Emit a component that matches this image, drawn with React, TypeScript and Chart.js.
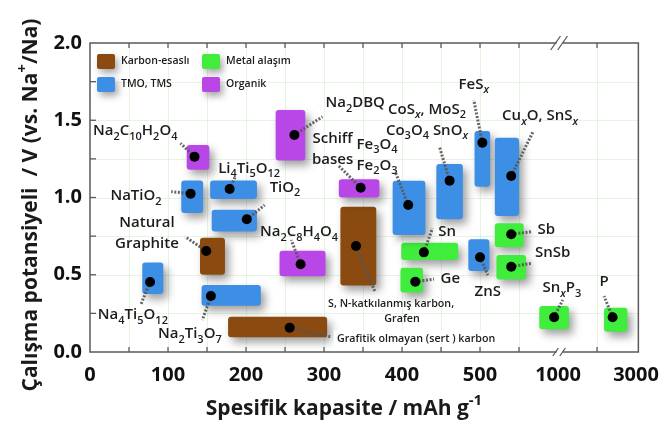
import React, { useEffect, useRef } from 'react';
import { Chart, registerables } from 'chart.js';
Chart.register(...registerables);

// ---- materials (capacity in axis units: 0-600 mAh/g linear, beyond the break 600 = 1000, 650 = 2000, 700 = 3000) ----
const materials = [
  'Na2C10H2O4', 'NaTiO2', 'Li4Ti5O12', 'TiO2', 'Natural Graphite', 'Na4Ti5O12', 'Na2Ti3O7',
  'Hard carbon', 'Na2C8H4O4', 'S,N-doped carbon', 'Sn', 'Ge', 'Na2DBQ', 'Schiff bases',
  'Fe3O4/Fe2O3', 'CoSx/MoS2/Co3O4/SnOx', 'FeSx', 'CuxO/SnSx', 'ZnS', 'Sb', 'SnSb', 'SnxP3', 'P',
];
const groups = [
  'organik', 'tmo', 'tmo', 'tmo', 'karbon', 'tmo', 'tmo',
  'karbon', 'organik', 'karbon', 'metal', 'metal', 'organik', 'organik',
  'tmo', 'tmo', 'tmo', 'tmo', 'tmo', 'metal', 'metal', 'metal', 'metal',
];
const capFrom = [124, 117, 154, 156, 141, 67, 143, 177, 243, 321, 399, 398, 238, 319, 388, 444, 493, 519, 485, 519, 521, 576, 659];
const capTo = [153, 145, 214, 214, 173, 94, 219, 304, 302, 367, 472, 427, 276, 371, 430, 478, 513, 550, 512, 556, 559, 614, 689];
const vFrom = [1.18, 0.90, 0.99, 0.78, 0.50, 0.375, 0.30, 0.095, 0.49, 0.43, 0.595, 0.385, 1.24, 1.00, 0.757, 0.86, 1.07, 0.88, 0.524, 0.678, 0.47, 0.147, 0.131];
const vTo = [1.34, 1.11, 1.11, 0.92, 0.74, 0.58, 0.434, 0.228, 0.656, 0.94, 0.707, 0.546, 1.566, 1.118, 1.109, 1.217, 1.43, 1.387, 0.729, 0.833, 0.628, 0.298, 0.287];
const dotCap = [134, 129, 179, 201, 149, 77, 155, 256, 270, 341, 428, 417, 262, 347, 408, 461, 503, 540, 500, 540, 540, 595, 670];
const dotV = [1.264, 1.025, 1.055, 0.859, 0.654, 0.453, 0.362, 0.157, 0.568, 0.686, 0.645, 0.455, 1.405, 1.063, 0.951, 1.109, 1.355, 1.139, 0.613, 0.762, 0.552, 0.225, 0.225];
const leaderCap = [116, 104, 186, 224, 122, 65, 144, 308, 258, 365, 439, 441, 298, 319, 392, 448, 492, 568, 510, 566, 566, 606, 659];
const leaderV = [1.351, 1.038, 1.133, 0.951, 0.746, 0.304, 0.207, 0.099, 0.725, 0.395, 0.801, 0.472, 1.523, 1.204, 1.157, 1.329, 1.631, 1.426, 0.498, 0.779, 0.574, 0.337, 0.362];

// ---- text annotations (markup: _ subscript, ^ superscript) ----
const labelLines: string[][] = [
  ['Na_2C_{10}H_2O_4'], ['NaTiO_2'], ['Li_4Ti_5O_{12}'], ['TiO_2'], ['Natural', 'Graphite'],
  ['Na_4Ti_5O_{12}'], ['Na_2Ti_3O_7'], ['Grafitik olmayan (sert ) karbon'], ['Na_2C_8H_4O_4'],
  ['S, N-katkılanmış karbon,'], ['Grafen'], ['Sn'], ['Ge'], ['Na_2DBQ'], ['Schiff', 'bases'],
  ['Fe_3O_4', 'Fe_2O_3'], ['CoS_x, MoS_2', 'Co_3O_4 SnO_x'], ['FeS_x'], ['Cu_xO, SnS_x'],
  ['ZnS'], ['Sb'], ['SnSb'], ['Sn_xP_3'], ['P'],
];
const labelCap = [58, 59, 204, 250, 73, 55, 128, 418, 268, 386, 400, 458, 462, 340, 311, 368, 432, 492, 577, 510, 585, 593, 605, 659];
const labelV = [1.437, 1.016, 1.194, 1.071, 0.843, 0.246, 0.123, 0.089, 0.783, 0.315, 0.218, 0.785, 0.481, 1.620, 1.390, 1.351, 1.577, 1.739, 1.534, 0.395, 0.801, 0.649, 0.423, 0.461];
const smallLabels = ['Grafitik olmayan (sert ) karbon', 'S, N-katkılanmış karbon,', 'Grafen'];

// ---- axes ----
const xTickPos = [0, 100, 200, 300, 400, 500, 600, 700];
const xTickText = ['0', '100', '200', '300', '400', '500', '1000', '3000'];
const xMinorTicks = [50, 100, 150, 200, 250, 300, 350, 400, 450, 500, 550, 650];
const yTickPos = [0, 0.5, 1.0, 1.5, 2.0];
const yMinorTicks = [0.25, 0.5, 0.75, 1.0, 1.25, 1.5, 1.75];
const xBreakAt = 602;

const legendItems = [
  { g: 'karbon', text: 'Karbon-esaslı' },
  { g: 'metal', text: 'Metal alaşım' },
  { g: 'tmo', text: 'TMO, TMS' },
  { g: 'organik', text: 'Organik' },
];

const COLORS: Record<string, string> = {
  karbon: '#8A4A10',
  metal: '#40EC3C',
  tmo: '#3D8FE6',
  organik: '#B946E6',
};

const LABEL_FONT = '"Open Sans", "Noto Sans", sans-serif';
const AXIS_FONT = '"Open Sans", "Noto Sans", sans-serif';

type Seg = { t: string; k: number };
function parse(s: string): Seg[] {
  const segs: Seg[] = [];
  let i = 0;
  let buf = '';
  while (i < s.length) {
    const c = s[i];
    if (c === '_' || c === '^') {
      if (buf) { segs.push({ t: buf, k: 0 }); buf = ''; }
      let t: string;
      if (s[i + 1] === '{') {
        const j = s.indexOf('}', i + 2);
        t = s.slice(i + 2, j);
        i = j + 1;
      } else {
        t = s[i + 1];
        i += 2;
      }
      segs.push({ t, k: c === '_' ? 1 : 2 });
    } else {
      buf += c;
      i++;
    }
  }
  if (buf) segs.push({ t: buf, k: 0 });
  return segs;
}

function segFont(seg: Seg, size: number, weight: number, family: string) {
  const sz = seg.k === 0 ? size : Math.round(size * 0.7);
  const it = seg.k === 1 && seg.t === 'x' ? 'italic ' : '';
  return `${it}${weight} ${sz}px ${family}`;
}

function drawRich(
  ctx: CanvasRenderingContext2D, s: string, x: number, baseline: number,
  align: 'left' | 'center', size: number, weight: number, family: string, color: string,
) {
  const segs = parse(s);
  let total = 0;
  const widths = segs.map((seg) => {
    ctx.font = segFont(seg, size, weight, family);
    const w = ctx.measureText(seg.t).width;
    total += w;
    return w;
  });
  let cx = align === 'center' ? x - total / 2 : x;
  ctx.fillStyle = color;
  ctx.textBaseline = 'alphabetic';
  ctx.textAlign = 'left';
  segs.forEach((seg, i) => {
    ctx.font = segFont(seg, size, weight, family);
    const dy = seg.k === 1 ? size * 0.3 : seg.k === 2 ? -size * 0.5 : 0;
    ctx.fillText(seg.t, cx, baseline + dy);
    cx += widths[i];
  });
  return total;
}

const customDraw = {
  id: 'customDraw',
  beforeDatasetsDraw(chart: any) {
    const { ctx, chartArea: a, scales } = chart;
    const xs = scales.x;
    const ys = scales.y;
    ctx.save();
    // faint grid
    ctx.strokeStyle = 'rgba(200,232,190,0.45)';
    ctx.lineWidth = 1;
    xMinorTicks.forEach((v) => {
      const px = Math.round(xs.getPixelForValue(v)) + 0.5;
      ctx.beginPath(); ctx.moveTo(px, a.top); ctx.lineTo(px, a.bottom); ctx.stroke();
    });
    yMinorTicks.forEach((v) => {
      const py = Math.round(ys.getPixelForValue(v)) + 0.5;
      ctx.beginPath(); ctx.moveTo(a.left, py); ctx.lineTo(a.right, py); ctx.stroke();
    });
    // rectangles
    materials.forEach((_, i) => {
      const x0 = xs.getPixelForValue(capFrom[i]);
      const x1 = xs.getPixelForValue(capTo[i]);
      const y0 = ys.getPixelForValue(vTo[i]);
      const y1 = ys.getPixelForValue(vFrom[i]);
      ctx.save();
      ctx.shadowColor = 'rgba(0,0,0,0.38)';
      ctx.shadowBlur = 9;
      ctx.shadowOffsetX = 4;
      ctx.shadowOffsetY = 5;
      ctx.fillStyle = COLORS[groups[i]];
      ctx.beginPath();
      (ctx as any).roundRect(x0, y0, x1 - x0, y1 - y0, 3);
      ctx.fill();
      ctx.restore();
    });
    // leader lines
    ctx.strokeStyle = 'rgba(85,85,85,0.9)';
    ctx.lineWidth = 3;
    ctx.setLineDash([2, 1.6]);
    materials.forEach((_, i) => {
      ctx.beginPath();
      ctx.moveTo(xs.getPixelForValue(dotCap[i]), ys.getPixelForValue(dotV[i]));
      ctx.lineTo(xs.getPixelForValue(leaderCap[i]), ys.getPixelForValue(leaderV[i]));
      ctx.stroke();
    });
    ctx.setLineDash([]);
    ctx.restore();
  },
  afterDatasetsDraw(chart: any) {
    const { ctx, scales } = chart;
    const xs = scales.x;
    const ys = scales.y;
    ctx.save();
    // labels
    labelLines.forEach((lines, i) => {
      const small = smallLabels.includes(lines[0]);
      const size = small ? 10.7 : 15;
      const gap = small ? 15 : 21;
      const cx = xs.getPixelForValue(labelCap[i]);
      const cy = ys.getPixelForValue(labelV[i]);
      lines.forEach((ln, j) => {
        const base = cy + j * gap + size * 0.36;
        if (ln.startsWith('Grafitik')) {
          ctx.font = `600 ${size}px ${LABEL_FONT}`;
          const w = ctx.measureText(ln).width;
          ctx.fillStyle = '#ffffff';
          ctx.fillRect(cx - w / 2 - 3, cy - 8, w + 6, 16);
        }
        drawRich(ctx, ln, cx, base, 'center', size, 600, LABEL_FONT, '#1c1c1c');
      });
    });
    // legend
    const sw = [
      [97, 54], [202, 54], [97, 77], [202, 77],
    ];
    legendItems.forEach((it, i) => {
      const [lx, ly] = sw[i];
      ctx.save();
      ctx.shadowColor = 'rgba(0,0,0,0.35)';
      ctx.shadowBlur = 7;
      ctx.shadowOffsetX = 3;
      ctx.shadowOffsetY = 4;
      ctx.fillStyle = COLORS[it.g];
      ctx.beginPath();
      (ctx as any).roundRect(lx, ly, 18, 15, 2);
      ctx.fill();
      ctx.restore();
      ctx.font = `600 10.5px ${LABEL_FONT}`;
      ctx.fillStyle = '#1c1c1c';
      ctx.textAlign = 'left';
      ctx.textBaseline = 'middle';
      ctx.fillText(it.text, lx + 24, ly + 7);
    });
    ctx.restore();
  },
  afterDraw(chart: any) {
    const { ctx, chartArea: a, scales } = chart;
    const xs = scales.x;
    const ys = scales.y;
    ctx.save();
    // frame
    ctx.strokeStyle = '#5a5a5a';
    ctx.lineWidth = 1.5;
    ctx.strokeRect(a.left, a.top, a.right - a.left, a.bottom - a.top);
    // inward ticks
    ctx.lineWidth = 1.3;
    xMinorTicks.forEach((v) => {
      const px = xs.getPixelForValue(v);
      ctx.beginPath(); ctx.moveTo(px, a.bottom); ctx.lineTo(px, a.bottom - 5); ctx.stroke();
      ctx.beginPath(); ctx.moveTo(px, a.top); ctx.lineTo(px, a.top + 5); ctx.stroke();
    });
    yMinorTicks.forEach((v) => {
      const py = ys.getPixelForValue(v);
      ctx.beginPath(); ctx.moveTo(a.left, py); ctx.lineTo(a.left + 6, py); ctx.stroke();
    });
    // axis break marks
    const bx = xs.getPixelForValue(xBreakAt);
    [a.top, a.bottom].forEach((yy: number, k: number) => {
      const h = k === 0 ? 7 : 4;
      ctx.fillStyle = '#fff';
      ctx.fillRect(bx - 3, yy - 2, 6, 4);
      ctx.strokeStyle = '#5a5a5a';
      ctx.lineWidth = 1.3;
      [-4, 3].forEach((o) => {
        ctx.beginPath();
        ctx.moveTo(bx + o - h * 0.7, yy + h);
        ctx.lineTo(bx + o + h * 0.7, yy - h);
        ctx.stroke();
      });
    });
    // axis titles
    drawRich(ctx, 'Spesifik kapasite / mAh g^{-1}', 344, 415, 'center', 21, 700, AXIS_FONT, '#1a1a1a');
    ctx.translate(37, 205);
    ctx.rotate(-Math.PI / 2);
    drawRich(ctx, 'Çalışma potansiyeli  / V (vs. Na^+/Na)', 0, 0, 'center', 21, 700, AXIS_FONT, '#1a1a1a');
    ctx.restore();
  },
};

export default function App() {
  const ref = useRef<HTMLCanvasElement | null>(null);
  useEffect(() => {
    if (!ref.current) return;
    const chart = new Chart(ref.current, {
      type: 'scatter',
      data: {
        datasets: [
          {
            data: dotCap.map((x, i) => ({ x, y: dotV[i] })),
            pointRadius: 5,
            pointHoverRadius: 5,
            pointBackgroundColor: '#000',
            pointBorderWidth: 0,
            borderColor: '#000',
          },
        ],
      },
      options: {
        animation: false,
        responsive: false,
        maintainAspectRatio: false,
        events: [],
        layout: { padding: { top: 43, right: 25, left: 0, bottom: 0 } },
        plugins: { legend: { display: false }, tooltip: { enabled: false } },
        scales: {
          x: {
            type: 'linear',
            min: 0,
            max: 703,
            grid: { display: false, drawTicks: false },
            border: { display: false },
            afterBuildTicks: (s: any) => { s.ticks = xTickPos.map((v) => ({ value: v })); },
            afterFit: (s: any) => { s.height = 73; },
            ticks: {
              autoSkip: false,
              maxRotation: 0,
              padding: 11,
              color: '#111',
              font: { family: AXIS_FONT, weight: 'bold', size: 20 },
              callback: (v: any) => {
                const idx = xTickPos.indexOf(Number(v));
                return idx >= 0 ? xTickText[idx] : '';
              },
            },
          },
          y: {
            type: 'linear',
            min: 0,
            max: 2,
            grid: { display: false, drawTicks: false },
            border: { display: false },
            afterBuildTicks: (s: any) => { s.ticks = yTickPos.map((v) => ({ value: v })); },
            afterFit: (s: any) => { s.width = 90; },
            ticks: {
              padding: 8,
              color: '#111',
              font: { family: AXIS_FONT, weight: 'bold', size: 20 },
              callback: (v: any) => Number(v).toFixed(1),
            },
          },
        },
      } as any,
      plugins: [customDraw as any],
    });
    return () => chart.destroy();
  }, []);
  return (
    <div style={{ position: 'fixed', left: 0, top: 0, width: 670, height: 425, background: '#fff' }}>
      <canvas ref={ref} width={670} height={425} style={{ display: 'block', width: 670, height: 425 }} />
    </div>
  );
}
